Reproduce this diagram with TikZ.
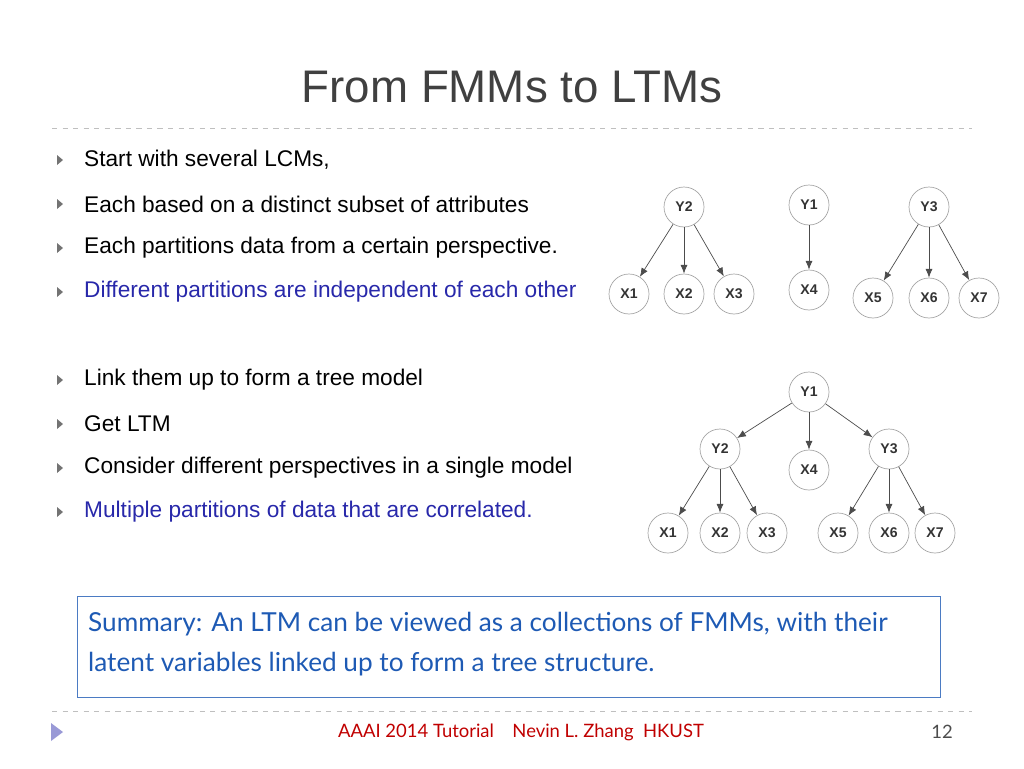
\documentclass[tikz,border=0pt]{standalone}
\usepackage{fontspec}
\setmainfont{Liberation Sans}
\newfontfamily\gillfont{Lato}
\usetikzlibrary{arrows.meta,positioning}
\definecolor{bulletblue}{RGB}{40,40,170}
\definecolor{sumblue}{RGB}{30,90,180}
\definecolor{footred}{RGB}{192,0,0}
\begin{document}
\begin{tikzpicture}[x=0.02cm,y=-0.02cm,
    var/.style = {circle, draw=gray!70, thin, minimum size=0.8cm, inner sep=0pt, font=\fontsize{8}{9}\selectfont\bfseries, text=black!80},
    edge/.style = {-{Latex[length=5pt,width=4pt]}, draw=black!70, thin},
    bullet/.style = {anchor=west, font=\fontsize{12.9}{15}\selectfont},
    tri/.style = {fill=black!60, draw=none}
]
    \useasboundingbox (0,0) rectangle (1024,768);
    % title
    \node[text=black!75] (title) at (512,87) {\fontsize{26}{30}\selectfont From FMMs to LTMs};
    \draw[dashed, gray!50] (52,128) -- (972,128);
    \draw[dashed, gray!50] (52,711) -- (972,711);
    % bullets
    \foreach \y/\t/\c in {160/{Start with several LCMs,}/black,
                          204/{Each based on a distinct subset of attributes}/black,
                          248/{Each partitions data from a certain perspective.}/black,
                          292/{Different partitions are independent of each other}/bulletblue,
                          380/{Link them up to form a tree model}/black,
                          424/{Get LTM}/black,
                          468/{Consider different perspectives in a single model}/black,
                          512/{Multiple partitions of data that are correlated.}/bulletblue} {
        \fill[black!55] (57,\y-5) -- (63,\y) -- (57,\y+5) -- cycle;
        \node[bullet, text=\c] at (78,\y) {\t};
    }
    % separate LCMs
    \node[var] (ty2) at (684,207) {Y2};
    \node[var] (ty1) at (809,205) {Y1};
    \node[var] (ty3) at (929,207) {Y3};
    \node[var] (tx1) at (629,294) {X1};
    \node[var] (tx2) at (684,294) {X2};
    \node[var] (tx3) at (734,294) {X3};
    \node[var] (tx4) at (809,290) {X4};
    \node[var] (tx5) at (873,298) {X5};
    \node[var] (tx6) at (929,298) {X6};
    \node[var] (tx7) at (979,298) {X7};
    \foreach \a/\b in {ty2/tx1, ty2/tx2, ty2/tx3, ty1/tx4, ty3/tx5, ty3/tx6, ty3/tx7}
        \draw[edge] (\a) -- (\b);
    % linked LTM
    \node[var] (by1) at (809,392) {Y1};
    \node[var] (by2) at (720,449) {Y2};
    \node[var] (bx4) at (809,470) {X4};
    \node[var] (by3) at (889,449) {Y3};
    \node[var] (bx1) at (668,533) {X1};
    \node[var] (bx2) at (720,533) {X2};
    \node[var] (bx3) at (767,533) {X3};
    \node[var] (bx5) at (838,533) {X5};
    \node[var] (bx6) at (889,533) {X6};
    \node[var] (bx7) at (935,533) {X7};
    \foreach \a/\b in {by1/by2, by1/bx4, by1/by3, by2/bx1, by2/bx2, by2/bx3, by3/bx5, by3/bx6, by3/bx7}
        \draw[edge] (\a) -- (\b);
    % summary
    \draw[sumblue!80, thin] (77,596) rectangle (940,697);
    \node[anchor=west, text=sumblue, align=left, font=\gillfont\fontsize{14.9}{23}\selectfont] (summary) at (82,644)
        {Summary: An LTM can be viewed as a collections of FMMs, with their\\latent variables linked up to form a tree structure.};
    % footer
    \fill[black!40!blue!40] (51,723) -- (63,732) -- (51,741) -- cycle;
    \node[text=footred, font=\gillfont\fontsize{10.5}{12}\selectfont] (footer) at (521,732)
        {AAAI 2014 Tutorial\quad Nevin L. Zhang\ \ HKUST};
    \node[text=black!70, font=\gillfont\fontsize{10.5}{12}\selectfont] (page) at (942,732) {12};
\end{tikzpicture}
\end{document}
